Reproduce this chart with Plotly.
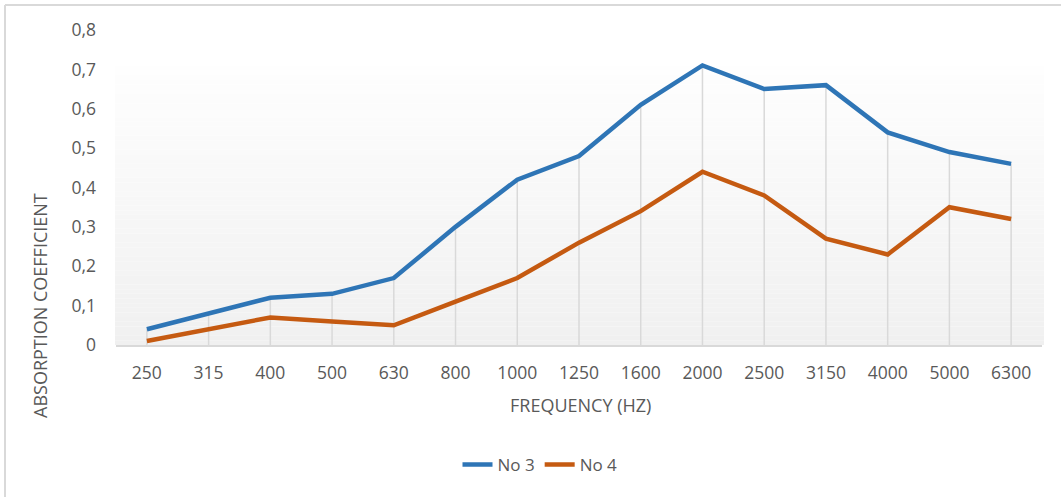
import plotly.graph_objects as go

# Frequency bands (Hz) and absorption coefficients for each sample
frequencies = ["250", "315", "400", "500", "630", "800", "1000", "1250",
               "1600", "2000", "2500", "3150", "4000", "5000", "6300"]
no3 = [0.04, 0.08, 0.12, 0.13, 0.17, 0.30, 0.42, 0.48, 0.61, 0.71,
       0.65, 0.66, 0.54, 0.49, 0.46]
no4 = [0.01, 0.04, 0.07, 0.06, 0.05, 0.11, 0.17, 0.26, 0.34, 0.44,
       0.38, 0.27, 0.23, 0.35, 0.32]
y_tickvals = [0, 0.1, 0.2, 0.3, 0.4, 0.5, 0.6, 0.7, 0.8]
y_ticktext = ["0", "0,1", "0,2", "0,3", "0,4", "0,5", "0,6", "0,7", "0,8"]

W, H = 1061, 497
L, R, T, B = 116, 19, 30, 152
pw, ph = W - L - R, H - T - B


def px_x(p):
    return (p - L) / pw


def px_y(p):
    return (H - B - p) / ph


FONT = "Open Sans, Segoe UI, sans-serif"
GREY_TXT = "#595959"
GRID = "#d9d9d9"

fig = go.Figure()

# Drop lines from the highest series down to the axis
dx, dy = [], []
for f, a, b in zip(frequencies, no3, no4):
    dx += [f, f, None]
    dy += [0, max(a, b), None]
fig.add_trace(go.Scatter(x=dx, y=dy, mode="lines", showlegend=False,
                         hoverinfo="skip",
                         line=dict(color=GRID, width=1.5)))

fig.add_trace(go.Scatter(x=frequencies, y=no3, name="No 3", mode="lines",
                         line=dict(color="#2E75B6", width=4.5)))
fig.add_trace(go.Scatter(x=frequencies, y=no4, name="No 4", mode="lines",
                         line=dict(color="#C55A11", width=4.5)))

# Plot-area gradient fill (white at top fading to light grey)
shapes = []
top_px, bot_px = 66, 345
n = 60
for i in range(n):
    y0 = top_px + (bot_px - top_px) * i / n
    y1 = top_px + (bot_px - top_px) * (i + 1) / n
    t = (i + 0.5) / n
    c = round(254 - (254 - 240) * t)
    shapes.append(dict(type="rect", xref="paper", yref="paper",
                       x0=px_x(115), x1=px_x(1044), y0=px_y(y1), y1=px_y(y0),
                       fillcolor=f"rgb({c},{c},{c})", line=dict(width=0),
                       layer="below"))

# Chart frame (left and top edges)
shapes.append(dict(type="line", xref="paper", yref="paper",
                   x0=px_x(5), x1=px_x(5), y0=px_y(5), y1=px_y(520),
                   line=dict(color=GRID, width=2)))
shapes.append(dict(type="line", xref="paper", yref="paper",
                   x0=px_x(5), x1=px_x(1080), y0=px_y(5), y1=px_y(5),
                   line=dict(color=GRID, width=2)))

fig.update_layout(
    width=W, height=H,
    margin=dict(l=L, r=R, t=T, b=B),
    paper_bgcolor="white",
    plot_bgcolor="rgba(0,0,0,0)",
    shapes=shapes,
    font=dict(family=FONT, size=17, color=GREY_TXT),
    showlegend=True,
    legend=dict(orientation="h", x=px_x(540), y=px_y(465),
                xanchor="center", yanchor="middle",
                font=dict(family=FONT, size=17, color=GREY_TXT),
                bgcolor="rgba(0,0,0,0)"),
    annotations=[
        dict(text="FREQUENCY (HZ)", xref="paper", yref="paper",
             x=px_x(580), y=px_y(405), showarrow=False,
             xanchor="center", yanchor="middle",
             font=dict(family=FONT, size=18, color=GREY_TXT)),
        dict(text="ABSORPTION COEFFICIENT", xref="paper", yref="paper",
             x=px_x(40), y=px_y(306), showarrow=False, textangle=-90,
             xanchor="center", yanchor="middle",
             font=dict(family=FONT, size=18, color=GREY_TXT)),
    ],
)

fig.update_xaxes(type="category", showgrid=False, zeroline=False,
                 showline=True, linecolor=GRID, linewidth=2,
                 ticks="", ticklabelstandoff=11,
                 range=[-0.5, len(frequencies) - 0.5],
                 tickfont=dict(family=FONT, size=17.5, color=GREY_TXT))
fig.update_yaxes(range=[0, 0.8], showgrid=False, zeroline=False,
                 showline=False, ticks="",
                 tickvals=y_tickvals, ticktext=y_ticktext,
                 ticklabelstandoff=19,
                 tickfont=dict(family=FONT, size=17.5, color=GREY_TXT))

fig.write_html("out.html")
